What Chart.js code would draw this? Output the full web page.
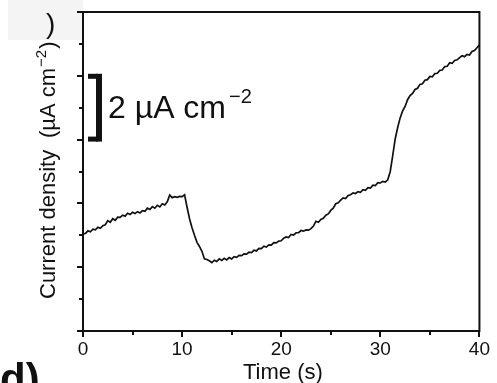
<!DOCTYPE html>
<html>
<head>
<meta charset="utf-8">
<script src="https://cdn.jsdelivr.net/npm/chart.js@4"></script>
<style>
html,body{margin:0;padding:0;background:#fff;}
canvas{display:block;}
</style>
</head>
<body>
<canvas id="c" width="497" height="383"></canvas>
<script>
// ---- data ----
const times = [
 0,0.25,0.5,0.75,1,1.25,1.5,1.75,2,2.25,2.5,2.75,3,3.25,3.5,3.75,4,4.25,4.5,4.75,
 5,5.25,5.5,5.75,6,6.25,6.5,6.75,7,7.25,7.5,7.75,8,8.25,8.5,8.75,9,9.25,9.5,9.75,
 10,10.25,10.5,10.75,11,11.25,11.5,11.75,12,12.25,12.5,12.75,13,13.25,13.5,13.75,14,14.25,14.5,14.75,
 15,15.25,15.5,15.75,16,16.25,16.5,16.75,17,17.25,17.5,17.75,18,18.25,18.5,18.75,19,19.25,19.5,19.75,
 20,20.25,20.5,20.75,21,21.25,21.5,21.75,22,22.25,22.5,22.75,23,23.25,23.5,23.75,24,24.25,24.5,24.75,
 25,25.25,25.5,25.75,26,26.25,26.5,26.75,27,27.25,27.5,27.75,28,28.25,28.5,28.75,29,29.25,29.5,29.75,
 30,30.25,30.5,30.75,31,31.25,31.5,31.75,32,32.25,32.5,32.75,33,33.25,33.5,33.75,34,34.25,34.5,34.75,
 35,35.25,35.5,35.75,36,36.25,36.5,36.75,37,37.25,37.5,37.75,38,38.25,38.5,38.75,39,39.25,39.5,39.75,
 40
];
const currentDensity = [
 3.04,3.06,3.14,3.11,3.19,3.17,3.25,3.22,3.30,3.33,3.46,3.41,3.52,3.47,3.57,3.56,3.63,3.60,3.69,3.65,
 3.72,3.68,3.74,3.70,3.77,3.75,3.85,3.81,3.90,3.85,3.94,3.89,3.99,3.95,4.05,4.26,4.18,4.21,4.19,4.22,
 4.21,4.27,3.88,3.52,3.24,3.00,2.78,2.65,2.50,2.26,2.24,2.20,2.14,2.22,2.18,2.26,2.21,2.28,2.23,2.30,
 2.26,2.33,2.31,2.37,2.36,2.42,2.41,2.47,2.46,2.53,2.51,2.59,2.58,2.66,2.63,2.70,2.69,2.77,2.76,2.82,
 2.83,2.91,2.95,2.93,3.03,3.01,3.08,3.08,3.15,3.13,3.17,3.16,3.21,3.29,3.44,3.41,3.50,3.53,3.63,3.67,
 3.78,3.85,3.99,4.02,4.10,4.17,4.15,4.25,4.27,4.33,4.31,4.37,4.35,4.43,4.41,4.49,4.48,4.57,4.56,4.65,
 4.64,4.69,4.67,4.74,5.00,5.50,6.02,6.38,6.68,6.90,7.04,7.25,7.38,7.45,7.57,7.61,7.73,7.75,7.86,7.88,
 7.98,7.97,8.07,8.08,8.17,8.18,8.29,8.30,8.41,8.39,8.48,8.50,8.57,8.63,8.60,8.67,8.65,8.76,8.79,8.88,
 8.97
];
const xTickLabels = [0, 10, 20, 30, 40];
const xMajorTicks = [0, 10, 20, 30, 40];
const xMinorTicks = [5, 15, 25, 35];
const yMajorTicks = [0, 2, 4, 6, 8, 10];
const yMinorTicks = [1, 3, 5, 7, 9];
const scaleBarRange = [6, 8]; // 2 µA cm-2
const xTitle = 'Time (s)';
const yTitleMain = 'Current density';
const yTitleUnit = '(µA cm';
const yTitleSup = '\u22122';
const yTitleClose = ')';
const scaleBarText = '2 µA cm';
const scaleBarSup = '\u22122';
const panelLabel = 'd)';

const FONT = '"Liberation Sans", Arial, Helvetica, sans-serif';
const INK = '#111';

const decor = {
  id: 'decor',
  beforeDraw(chart) {
    const ctx = chart.ctx;
    ctx.save();
    ctx.fillStyle = '#fff';
    ctx.fillRect(0, 0, chart.width, chart.height);
    ctx.fillStyle = '#f4f4f4';
    ctx.fillRect(8, 0, 75, 40);
    ctx.restore();
  },
  afterDraw(chart) {
    const {ctx, chartArea: a, scales: {x, y}} = chart;
    ctx.save();
    ctx.strokeStyle = INK;
    ctx.fillStyle = INK;
    ctx.lineWidth = 2;
    ctx.lineCap = 'butt';
    ctx.strokeRect(a.left, a.top, a.right - a.left, a.bottom - a.top);
    ctx.beginPath();
    xMajorTicks.forEach(v => { const p = Math.round(x.getPixelForValue(v)); ctx.moveTo(p, a.bottom); ctx.lineTo(p, a.bottom + 6); });
    xMinorTicks.forEach(v => { const p = Math.round(x.getPixelForValue(v)); ctx.moveTo(p, a.bottom); ctx.lineTo(p, a.bottom + 4); });
    yMajorTicks.forEach(v => { const p = Math.round(y.getPixelForValue(v)); ctx.moveTo(a.left - 6, p); ctx.lineTo(a.left, p); });
    yMinorTicks.forEach(v => { const p = Math.round(y.getPixelForValue(v)); ctx.moveTo(a.left - 4, p); ctx.lineTo(a.left, p); });
    ctx.stroke();

    // scale bar "]"
    const t = y.getPixelForValue(scaleBarRange[1]);
    const b = y.getPixelForValue(scaleBarRange[0]);
    const bx = a.left + 13;
    ctx.fillRect(bx, t - 2, 6, b - t + 4);
    ctx.fillRect(bx - 8, t - 2, 10, 5);
    ctx.fillRect(bx - 8, b - 3, 10, 5);

    ctx.textBaseline = 'alphabetic';
    ctx.textAlign = 'left';
    ctx.font = '32px ' + FONT;
    ctx.fillText(scaleBarText, a.left + 25, 118);
    const w = ctx.measureText(scaleBarText).width;
    ctx.font = '20px ' + FONT;
    ctx.fillText(scaleBarSup, a.left + 25 + w + 3, 103);

    // x title
    ctx.font = '22px ' + FONT;
    ctx.fillText(xTitle, 243, 379);

    // panel label
    ctx.font = 'bold 42px ' + FONT;
    ctx.fillText(panelLabel, 0, 393);

    // stray bracket at top-left
    ctx.font = '28px ' + FONT;
    ctx.fillText(')', 46, 33);

    // y title (rotated)
    ctx.save();
    ctx.translate(55, 0);
    ctx.rotate(-Math.PI / 2);
    ctx.font = '22px ' + FONT;
    ctx.fillText(yTitleMain, -299, 0);
    ctx.fillText(yTitleUnit, -138, 0);
    const uw = ctx.measureText(yTitleUnit).width;
    ctx.font = '15px ' + FONT;
    ctx.fillText(yTitleSup, -138 + uw + 1, -9);
    const sw = ctx.measureText(yTitleSup).width;
    ctx.font = '22px ' + FONT;
    ctx.fillText(yTitleClose, -138 + uw + sw + 2, 0);
    ctx.restore();

    ctx.restore();
  }
};

new Chart(document.getElementById('c'), {
  type: 'line',
  data: {
    datasets: [{
      data: times.map((t, i) => ({x: t, y: currentDensity[i]})),
      borderColor: INK,
      borderWidth: 1.7,
      pointRadius: 0,
      tension: 0,
      fill: false
    }]
  },
  options: {
    responsive: false,
    animation: false,
    events: [],
    layout: {padding: {left: 83, right: 13, top: 12, bottom: 0}},
    plugins: {legend: {display: false}, tooltip: {enabled: false}},
    scales: {
      x: {
        type: 'linear', min: 0, max: 40,
        afterFit: s => { s.height = 52; },
        afterBuildTicks: s => { s.ticks = xTickLabels.map(v => ({value: v})); },
        grid: {display: false, drawTicks: false},
        border: {display: false},
        ticks: {padding: 7, color: INK, font: {family: FONT, size: 19}, maxRotation: 0}
      },
      y: {
        type: 'linear', min: 0, max: 10,
        afterFit: s => { s.width = 0; },
        grid: {display: false, drawTicks: false},
        border: {display: false},
        ticks: {display: false}
      }
    }
  },
  plugins: [decor]
});
</script>
</body>
</html>
